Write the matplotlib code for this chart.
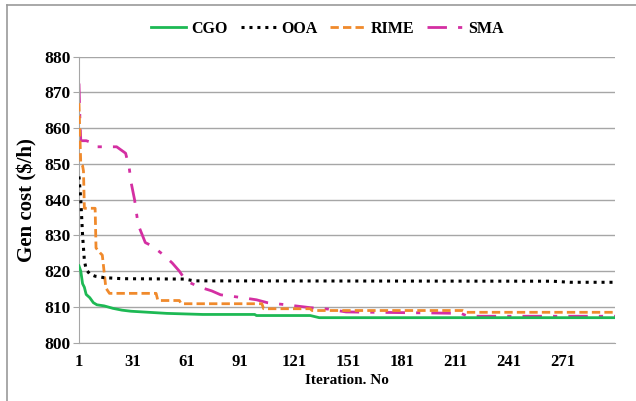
import matplotlib.pyplot as plt
from matplotlib.lines import Line2D

plt.rcParams['font.family'] = ['Liberation Serif', 'DejaVu Serif']
plt.rcParams['font.weight'] = 'bold'

# convergence curves (iteration, cost)
cgo_it = [1, 2, 3, 4, 5, 7, 9, 11, 15, 20, 25, 30, 40, 50, 70, 99, 100, 130, 135, 300]
cgo_val = [821.5, 820, 816.5, 815.5, 813.5, 812.6, 811.2, 810.6, 810.3, 809.6, 809.1,
           808.8, 808.5, 808.2, 807.9, 807.9, 807.6, 807.6, 807.0, 807.0]

ooa_it = [1, 2, 3, 4, 5, 7, 10, 15, 25, 60, 65, 265, 275, 300]
ooa_val = [846.5, 840, 830, 823, 820.5, 819.2, 818.6, 818.2, 817.9, 817.8, 817.3,
           817.2, 816.9, 816.9]

rime_it = [1, 1.5, 2, 3, 3.5, 4, 10, 10.5, 13, 14, 16, 18, 44, 45, 57, 58, 103, 104,
           130, 131, 215, 217, 300]
rime_val = [867, 858, 850, 849.5, 848, 837.6, 837.6, 826.5, 825, 824.5, 815.3, 813.8,
            813.8, 811.8, 811.8, 810.9, 810.9, 809.5, 809.5, 809.0, 809.0, 808.5, 808.5]

sma_it = [1, 1.5, 2, 5, 8, 10, 22, 27, 29, 30, 32, 34, 36, 38, 42, 45, 48, 53, 57, 60,
          62, 68, 75, 80, 92, 100, 106, 120, 130, 140, 150, 200, 214, 218, 300]
sma_val = [872.5, 863, 856.5, 856.5, 856, 854.8, 854.8, 853, 849, 845, 840, 833, 830.5,
           828, 827, 825.8, 824.6, 822.3, 820, 817.8, 817, 815.6, 814.5, 813.4, 812.6,
           812, 811.2, 810.4, 809.8, 809.4, 808.6, 808.3, 808.2, 807.4, 807.4]

xticks = [1, 31, 61, 91, 121, 151, 181, 211, 241, 271]
yticks = [800, 810, 820, 830, 840, 850, 860, 870, 880]

fig = plt.figure(figsize=(6.36, 4.01), dpi=100)
ax = fig.add_axes([0.1242, 0.1454, 0.8428, 0.7132])

ax.plot(cgo_it, cgo_val, color="#1db954", lw=2, label="CGO", zorder=5)
ax.plot(ooa_it, ooa_val, color="black", lw=2.2, linestyle=(0, (1, 1.6)), label="OOA", zorder=4)
ax.plot(rime_it, rime_val, color="#f08a2c", lw=2, linestyle=(0, (3, 1.5)), label="RIME", zorder=3)
ax.plot(sma_it, sma_val, color="#d42fa2", lw=2, linestyle=(0, (7, 4, 1.5, 4)), label="SMA", zorder=2)

ax.set_xlim(1, 300)
ax.set_ylim(800, 880)
ax.set_xticks(xticks)
ax.set_yticks(yticks)
ax.tick_params(axis='x', length=0, pad=8, labelsize=12)
ax.tick_params(axis='y', length=4, color="#a6a6a6", pad=2, labelsize=12.5)
ax.grid(axis='y', color="#a6a6a6", lw=1)
ax.set_axisbelow(True)
for s in ['top', 'right']:
    ax.spines[s].set_visible(False)
ax.spines['left'].set_color("#a6a6a6")
ax.spines['bottom'].set_color("#a6a6a6")

ax.set_xlabel("Iteration. No", fontsize=11, fontweight='bold', labelpad=3)
ax.set_ylabel("Gen cost ($/h)", fontsize=15, fontweight='bold', labelpad=5)

ax.legend(loc='lower center', bbox_to_anchor=(0.463, 1.02), ncol=4, frameon=False,
          handlelength=2.2, columnspacing=0.8, handletextpad=0.35,
          prop={'weight': 'bold', 'size': 11.5})

# outer frame of the original picture (cut on the right and bottom)
fig.add_artist(Line2D([7 / 636, 7 / 636], [0, 1 - 5 / 401], color="#9a9a9a", lw=1.2))
fig.add_artist(Line2D([7 / 636, 1], [1 - 5 / 401, 1 - 5 / 401], color="#9a9a9a", lw=1.2))

fig.savefig("out.png", dpi=100)
